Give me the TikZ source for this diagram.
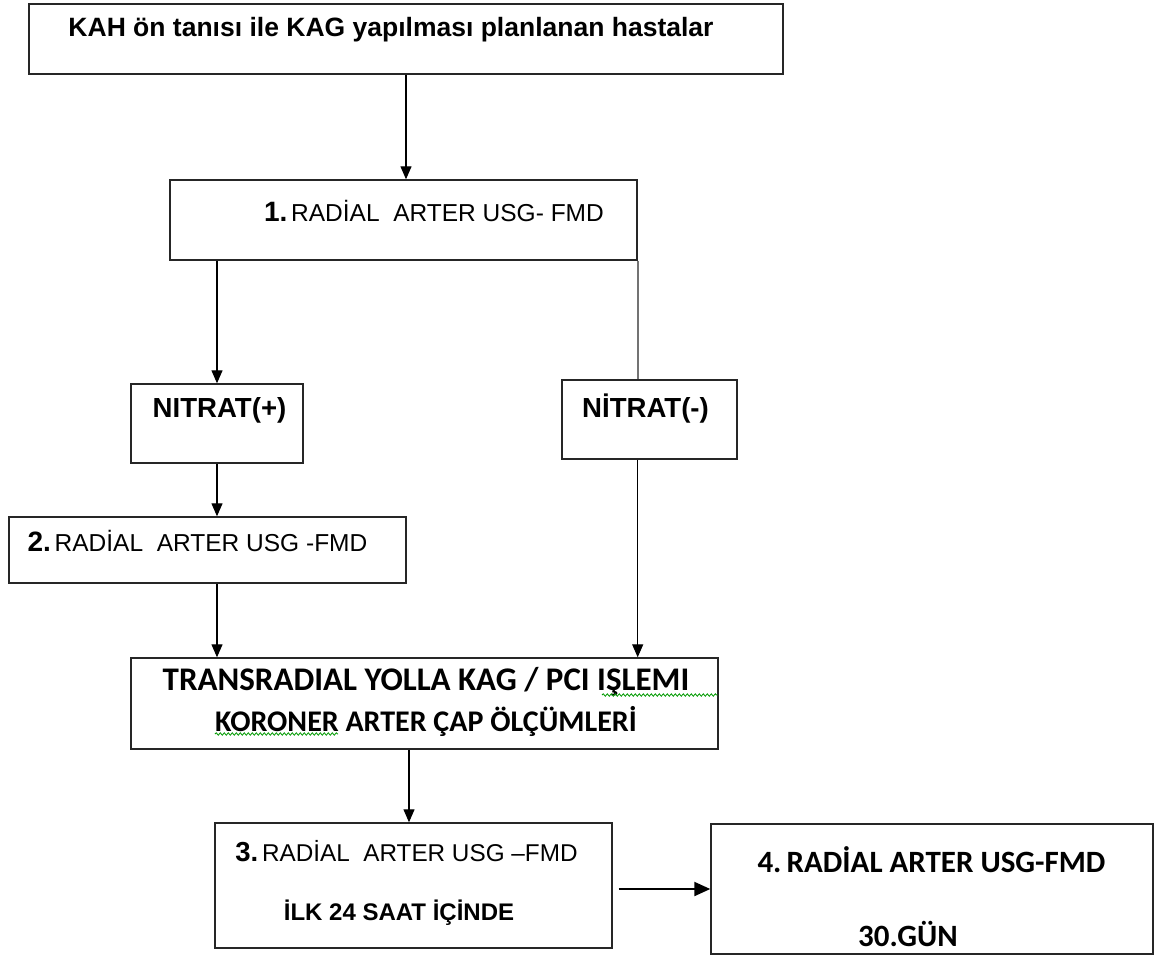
\documentclass[tikz,border=0pt]{standalone}
\usepackage{fontspec}
\setmainfont{Liberation Sans}
\newfontfamily\calib{Carlito}
\usetikzlibrary{arrows.meta,decorations.pathmorphing}
\begin{document}
\begin{tikzpicture}[x=1pt,y=-1pt,
  box/.style={draw=black!85, line width=1.4pt, rectangle, inner sep=0pt},
  lbl/.style={inner sep=0pt, anchor=base, text=black},
  conn/.style={line width=1.2pt, -{Triangle[length=13pt,width=11pt]}},
  thickconn/.style={line width=2pt, -{Triangle[length=16pt,width=14pt]}},
  grayline/.style={line width=2pt, draw=black!55},
  spell/.style={draw=green!60!black, line width=0.8pt, decorate,
    decoration={snake, amplitude=1.2pt, segment length=4pt}}
 ]
\useasboundingbox (0,0) rectangle (1155,956);

% boxes
\node[box, minimum width=754, minimum height=70] (b1) at (406,39) {};
\node[box, minimum width=467, minimum height=80] (b2) at (403.5,220) {};
\node[box, minimum width=172, minimum height=79] (np) at (217,423.5) {};
\node[box, minimum width=175, minimum height=79] (nm) at (649.5,419.5) {};
\node[box, minimum width=397, minimum height=66] (b2b) at (207.5,550) {};
\node[box, minimum width=587, minimum height=91] (tr) at (424.5,703.5) {};
\node[box, minimum width=397, minimum height=125] (b3) at (413.5,885.5) {};
\node[box, minimum width=442, minimum height=130] (b4) at (932,889) {};

% texts
\node[lbl] (t1) at (391,36.5) {\fontsize{26.5}{30}\selectfont\bfseries KAH ön tanısı ile KAG yapılması planlanan hastalar};
\node[lbl] (t2) at (434,221) {{\fontsize{28}{30}\selectfont\bfseries 1.} {\fontsize{24.5}{28}\selectfont RADİAL\ \ ARTER USG- FMD}};
\node[lbl] (t3) at (219.5,417) {\fontsize{27.6}{30}\selectfont\bfseries NITRAT(+)};
\node[lbl] (t4) at (645.5,417) {\fontsize{27.6}{30}\selectfont\bfseries NİTRAT(-)};
\node[lbl] (t5) at (197.5,551) {{\fontsize{28}{30}\selectfont\bfseries 2.} {\fontsize{24.5}{28}\selectfont RADİAL\ \ ARTER USG -FMD}};
\node[lbl] (t6) at (426,690) {\calib\fontsize{33}{36}\selectfont\bfseries TRANSRADIAL YOLLA KAG / PCI IŞLEMI};
\node[lbl] (t7) at (426,731) {\calib\fontsize{30}{34}\selectfont\bfseries KORONER ARTER ÇAP ÖLÇÜMLERİ};
\node[lbl] (t8) at (406.5,861.5) {{\fontsize{27.5}{30}\selectfont\bfseries 3.} {\fontsize{24.3}{28}\selectfont RADİAL\ \ ARTER USG –FMD}};
\node[lbl] (t9) at (399,920.5) {\fontsize{24}{28}\selectfont\bfseries İLK 24 SAAT İÇİNDE};
\node[lbl] (t10) at (931.5,872) {\calib\fontsize{31}{34}\selectfont\bfseries 4.\,RADİAL ARTER USG-FMD};
\node[lbl] (t11) at (908,946) {\calib\fontsize{31}{34}\selectfont\bfseries 30.GÜN};

% spell-check squiggles
\draw[spell] (602,695) -- (718,695);
\draw[spell] (215,734) -- (338,734);

% connectors
\draw[conn] (b1.south) -- (b1.south |- b2.north);
\draw[conn] (np.north |- b2.south) -- (np.north);
\draw[grayline] (b2.south east) -- (b2.south east |- nm.north);
\draw[conn] (b2.south east |- nm.south) -- (b2.south east |- tr.north);
\draw[conn] (np.south) -- (np.south |- b2b.north);
\draw[conn] (np.south |- b2b.south) -- (np.south |- tr.north);
\draw[conn] ([xshift=-4.5pt]b3.north |- tr.south) -- ([xshift=-4.5pt]b3.north);
\path (b4.west -| b3.east) ++(6,0) coordinate (a34);
\draw[thickconn] (a34) -- (b4.west);
\end{tikzpicture}
\end{document}
